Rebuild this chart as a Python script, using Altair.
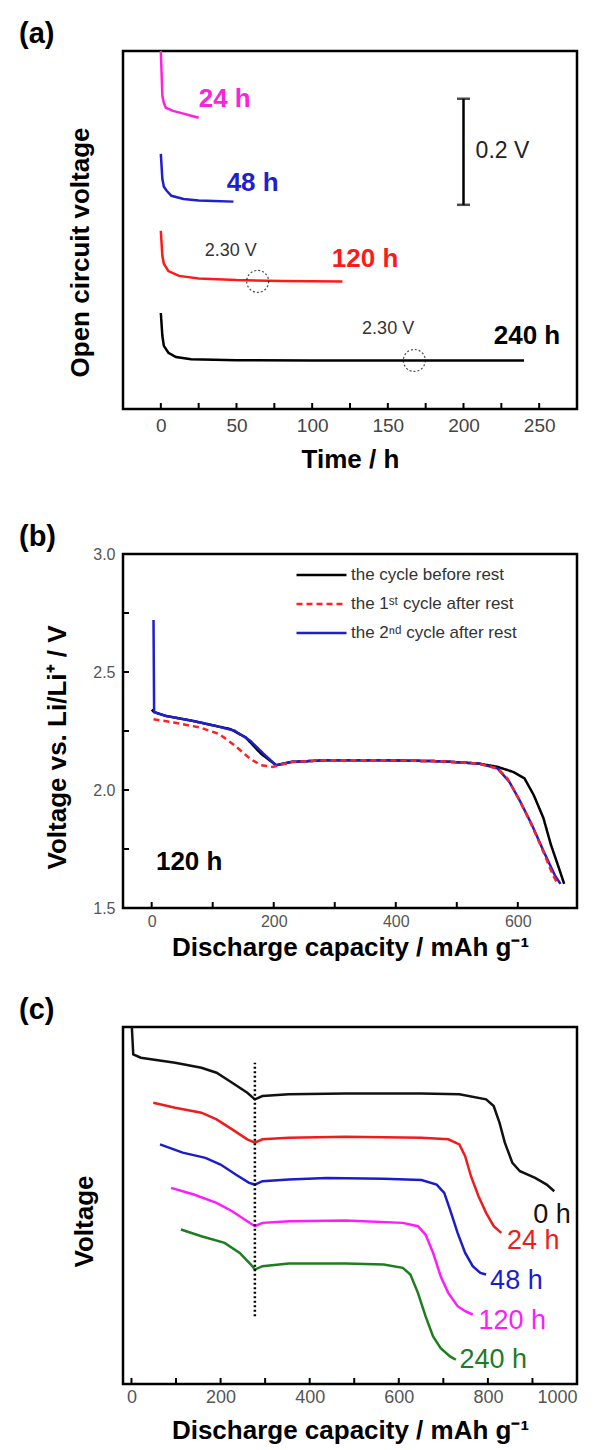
import altair as alt
import pandas as pd

FONT = "Liberation Sans"

# ---------------- panel (a): open circuit voltage during rest (curves offset) ----------------
a_names = ["24 h", "48 h", "120 h", "240 h"]
a_colors = ["#ff22dd", "#1f1fd0", "#ff1a1a", "#000000"]
a_t_24 = [0, 1, 2, 3.3, 8, 15, 20, 25]
a_v_24 = [0.675, 0.591, 0.577, 0.568, 0.562, 0.557, 0.553, 0.549]
a_t_48 = [0, 1, 2, 4, 7, 15, 25, 35, 48]
a_v_48 = [0.481, 0.434, 0.419, 0.411, 0.402, 0.396, 0.393, 0.392, 0.391]
a_t_120 = [0, 1, 2, 5, 12, 25, 50, 80, 120]
a_v_120 = [0.336, 0.289, 0.274, 0.260, 0.251, 0.246, 0.243, 0.2415, 0.2406]
a_t_240 = [0, 1, 2, 5, 10, 20, 50, 100, 170, 240]
a_v_240 = [0.181, 0.138, 0.119, 0.106, 0.098, 0.094, 0.092, 0.0915, 0.0915, 0.0915]
a_label_t = [25, 43.5, 113, 220]
a_label_v = [0.585, 0.426, 0.283, 0.138]
a_circle_t = [64, 167.5]
a_circle_v = [0.2406, 0.0915]
a_note_text = ["2.30 V", "2.30 V"]
a_note_t = [29, 133]
a_note_v = [0.298, 0.151]
a_bar_t = [200, 200]
a_bar_v = [0.385, 0.585]
a_bar_text = ["0.2 V"]
a_bar_text_t = [208]
a_bar_text_v = [0.487]
a_xticks = [0, 25, 50, 75, 100, 125, 150, 175, 200, 225, 250]

# ---------------- panel (b): discharge curves, 120 h rest ----------------
b_names = ["the cycle before rest", "the 1ˢᵗ cycle after rest", "the 2ⁿᵈ cycle after rest"]
b_colors = ["#000000", "#ff2020", "#1f1fd0"]
b_dashes = [[1, 0], [6, 4], [1, 0]]
b_before_x = [0, 4, 23, 67, 104, 129, 154, 179, 204, 229, 286, 379, 473, 536, 567, 592, 611, 626, 642, 654, 667, 676]
b_before_v = [2.34, 2.33, 2.314, 2.293, 2.272, 2.258, 2.223, 2.154, 2.105, 2.119, 2.126, 2.126, 2.122, 2.112, 2.098, 2.077, 2.049, 1.979, 1.881, 1.770, 1.672, 1.602]
b_first_x = [3, 36, 79, 111, 136, 161, 179, 198, 229, 286, 379, 473, 536, 567, 583, 601, 620, 639, 658, 664]
b_first_v = [2.30, 2.286, 2.265, 2.237, 2.189, 2.133, 2.105, 2.098, 2.119, 2.126, 2.126, 2.122, 2.112, 2.091, 2.049, 1.965, 1.867, 1.756, 1.637, 1.609]
b_second_x = [3, 4, 23, 67, 104, 136, 161, 186, 204, 229, 286, 379, 473, 536, 567, 586, 604, 623, 642, 661, 670]
b_second_v = [2.72, 2.33, 2.314, 2.293, 2.272, 2.251, 2.21, 2.147, 2.105, 2.119, 2.126, 2.126, 2.122, 2.112, 2.091, 2.035, 1.951, 1.853, 1.742, 1.637, 1.602]
b_label = ["120 h"]
b_label_x = [7]
b_label_v = [1.695]
b_xticks = [0, 100, 200, 300, 400, 500, 600]
b_yticks = [1.5, 1.75, 2.0, 2.25, 2.5, 2.75, 3.0]

# ---------------- panel (c): discharge curves after different rest times (offset) ----------------
c_names = ["0 h", "24 h", "48 h", "120 h", "240 h"]
c_colors = ["#111111", "#ee1c1c", "#1c1ccc", "#ff1aff", "#1e7d1e"]
c_0h_x = [0, 4, 21, 98, 157, 191, 226, 260, 277, 294, 353, 481, 651, 736, 796, 813, 826, 838, 855, 872, 906, 932, 949]
c_0h_v = [1.532, 1.385, 1.371, 1.350, 1.329, 1.308, 1.266, 1.224, 1.196, 1.210, 1.217, 1.221, 1.221, 1.217, 1.196, 1.168, 1.098, 1.014, 0.929, 0.894, 0.866, 0.838, 0.810]
c_24h_x = [49, 98, 157, 191, 226, 260, 277, 294, 353, 481, 651, 711, 736, 749, 762, 779, 796, 813, 830]
c_24h_v = [1.182, 1.161, 1.140, 1.112, 1.070, 1.028, 1.014, 1.028, 1.035, 1.039, 1.035, 1.028, 1.007, 0.957, 0.873, 0.789, 0.719, 0.663, 0.635]
c_48h_x = [64, 115, 166, 200, 234, 264, 277, 294, 353, 438, 566, 651, 685, 702, 715, 732, 749, 766, 783, 796]
c_48h_v = [1.007, 0.972, 0.950, 0.922, 0.880, 0.845, 0.838, 0.852, 0.859, 0.866, 0.862, 0.857, 0.838, 0.803, 0.733, 0.635, 0.551, 0.495, 0.467, 0.460]
c_120h_x = [89, 140, 191, 226, 260, 277, 294, 353, 481, 609, 643, 660, 677, 694, 711, 732, 749, 766]
c_120h_v = [0.824, 0.796, 0.761, 0.726, 0.684, 0.663, 0.677, 0.684, 0.687, 0.677, 0.663, 0.628, 0.551, 0.453, 0.383, 0.327, 0.306, 0.292]
c_240h_x = [111, 157, 209, 243, 268, 277, 294, 353, 481, 566, 609, 626, 643, 660, 677, 694, 715, 728]
c_240h_v = [0.649, 0.621, 0.593, 0.551, 0.502, 0.481, 0.495, 0.506, 0.506, 0.502, 0.488, 0.460, 0.383, 0.285, 0.200, 0.151, 0.116, 0.102]
c_label_x = [902, 843, 805, 779, 736]
c_label_v = [0.712, 0.600, 0.432, 0.264, 0.102]
c_dot_x = [277]
c_dot_v1 = [0.285]
c_dot_v2 = [1.350]
c_xticks = [0, 100, 200, 300, 400, 500, 600, 700, 800, 900, 1000]

# ---------------- layout parameters ----------------
W = 454
HA, HB, HC = 358, 354, 357
TITLE_FS = 26
PANEL_FS = 29
TK = 6  # inward tick length


def long_df(names, xs, ys):
    rows = []
    for n, xl, yl in zip(names, xs, ys):
        for i, (x, y) in enumerate(zip(xl, yl)):
            rows.append({"series": n, "x": x, "y": y, "i": i})
    return pd.DataFrame(rows)


one = pd.DataFrame({"k": [0]})


def panel_tag(txt):
    return alt.Chart(one).mark_text(
        align="left", baseline="middle", fontSize=PANEL_FS, fontWeight="bold", font=FONT, color="black"
    ).encode(x=alt.value(-104), y=alt.value(-17), text=alt.value(txt))


def x_ticks(values, scale, axis, h):
    return alt.Chart(pd.DataFrame({"x": values})).mark_rule(color="black", strokeWidth=2).encode(
        x=alt.X("x:Q", scale=scale, axis=axis), y=alt.value(h - TK), y2=alt.value(h))


def y_ticks(values, scale, axis):
    return alt.Chart(pd.DataFrame({"y": values})).mark_rule(color="black", strokeWidth=2).encode(
        y=alt.Y("y:Q", scale=scale, axis=axis), x=alt.value(0), x2=alt.value(TK))


# ----- (a) -----
xa = alt.Scale(domain=[-25, 275], nice=False, zero=False)
ya = alt.Scale(domain=[0, 0.675], nice=False, zero=False)
a_col = alt.Scale(domain=a_names, range=a_colors)
xa_axis = alt.Axis(values=a_xticks, format="d", labelExpr="datum.value % 50 == 0 ? datum.label : ''",
                   ticks=False, tickSize=0, labelPadding=7, labelFontSize=19, labelColor="#444",
                   title="Time / h", titlePadding=11)
ya_axis = alt.Axis(labels=False, ticks=False, domain=False, minExtent=0,
                   title="Open circuit voltage", titleX=-30, titleY=201)
df_a = long_df(a_names, [a_t_24, a_t_48, a_t_120, a_t_240], [a_v_24, a_v_48, a_v_120, a_v_240])

a_lines = alt.Chart(df_a).mark_line(strokeWidth=2.5, clip=True).encode(
    x=alt.X("x:Q", scale=xa, axis=xa_axis),
    y=alt.Y("y:Q", scale=ya, axis=ya_axis),
    color=alt.Color("series:N", scale=a_col, legend=None),
    order="i:Q",
)
a_labels = alt.Chart(pd.DataFrame({"series": a_names, "x": a_label_t, "y": a_label_v})).mark_text(
    align="left", baseline="middle", fontSize=26, fontWeight="bold", font=FONT
).encode(x=alt.X("x:Q", scale=xa, axis=xa_axis), y=alt.Y("y:Q", scale=ya, axis=ya_axis),
         text="series:N", color=alt.Color("series:N", scale=a_col, legend=None))
a_circles = alt.Chart(pd.DataFrame({"x": a_circle_t, "y": a_circle_v})).mark_point(
    shape="circle", size=484, filled=False, color="black", strokeWidth=1.2, strokeDash=[2, 2]
).encode(x=alt.X("x:Q", scale=xa, axis=xa_axis), y=alt.Y("y:Q", scale=ya, axis=ya_axis))
a_notes = alt.Chart(pd.DataFrame({"t": a_note_text, "x": a_note_t, "y": a_note_v})).mark_text(
    align="left", baseline="middle", fontSize=18, font=FONT, color="#333"
).encode(x=alt.X("x:Q", scale=xa, axis=xa_axis), y=alt.Y("y:Q", scale=ya, axis=ya_axis), text="t:N")
a_bar = alt.Chart(pd.DataFrame({"x": a_bar_t[:1], "y": a_bar_v[:1], "y2": a_bar_v[1:]})).mark_rule(
    strokeWidth=2.5, color="black").encode(
    x=alt.X("x:Q", scale=xa, axis=xa_axis), y=alt.Y("y:Q", scale=ya, axis=ya_axis), y2="y2:Q")
a_caps = alt.Chart(pd.DataFrame({"x": a_bar_t, "y": a_bar_v})).mark_tick(
    orient="horizontal", size=13, thickness=2.5, color="black").encode(
    x=alt.X("x:Q", scale=xa, axis=xa_axis), y=alt.Y("y:Q", scale=ya, axis=ya_axis))
a_bartext = alt.Chart(pd.DataFrame({"t": a_bar_text, "x": a_bar_text_t, "y": a_bar_text_v})).mark_text(
    align="left", baseline="middle", fontSize=23, font=FONT, color="#222"
).encode(x=alt.X("x:Q", scale=xa, axis=xa_axis), y=alt.Y("y:Q", scale=ya, axis=ya_axis), text="t:N")
a_spacer = alt.Chart(one).mark_rule(opacity=0).encode(
    x=alt.value(0), y=alt.value(HA + 60), y2=alt.value(HA + 78))

chart_a = alt.layer(a_lines, a_labels, a_circles, a_notes, a_bar, a_caps, a_bartext,
                    x_ticks(a_xticks, xa, xa_axis, HA),
                    panel_tag("(a)"), a_spacer).properties(width=W, height=HA)

# ----- (b) -----
xb = alt.Scale(domain=[-47, 697], nice=False, zero=False)
yb = alt.Scale(domain=[1.5, 3.0], nice=False, zero=False)
b_col = alt.Scale(domain=b_names, range=b_colors)
b_dash = alt.Scale(domain=b_names, range=b_dashes)
xb_axis = alt.Axis(values=b_xticks, format="d", labelExpr="datum.value % 200 == 0 ? datum.label : ''",
                   ticks=False, tickSize=0, labelPadding=5, labelFontSize=16, labelColor="#555",
                   title="Discharge capacity / mAh g⁻¹", titlePadding=5)
yb_axis = alt.Axis(values=b_yticks, format=".1f", labelExpr="(datum.value * 4) % 2 == 0 ? datum.label : ''",
                   ticks=False, tickSize=0, labelPadding=8, labelFontSize=16, labelColor="#555",
                   minExtent=0, title="Voltage vs. Li/Li⁺ / V", titleX=-53, titleY=193)
df_b = long_df(b_names, [b_before_x, b_first_x, b_second_x], [b_before_v, b_first_v, b_second_v])
leg = alt.Legend(orient="none", legendX=172, legendY=13, title=None, symbolType="stroke",
                 symbolSize=2500, symbolStrokeWidth=2.5, labelFontSize=17, labelColor="#333",
                 labelFont=FONT, labelLimit=400, clipHeight=16, rowPadding=12, labelOffset=3)


def b_layer(name):
    return alt.Chart(df_b[df_b.series == name]).mark_line(strokeWidth=2.5).encode(
        x=alt.X("x:Q", scale=xb, axis=xb_axis),
        y=alt.Y("y:Q", scale=yb, axis=yb_axis),
        color=alt.Color("series:N", scale=b_col, legend=leg),
        strokeDash=alt.StrokeDash("series:N", scale=b_dash, legend=leg),
        order="i:Q",
    )


b_text = alt.Chart(pd.DataFrame({"t": b_label, "x": b_label_x, "y": b_label_v})).mark_text(
    align="left", baseline="middle", fontSize=26, fontWeight="bold", font=FONT, color="black"
).encode(x=alt.X("x:Q", scale=xb, axis=xb_axis), y=alt.Y("y:Q", scale=yb, axis=yb_axis), text="t:N")

chart_b = alt.layer(b_layer(b_names[0]), b_layer(b_names[2]), b_layer(b_names[1]), b_text,
                    x_ticks(b_xticks, xb, xb_axis, HB), y_ticks(b_yticks, yb, yb_axis),
                    panel_tag("(b)")).properties(width=W, height=HB)

# ----- (c) -----
xc = alt.Scale(domain=[-19, 1000], nice=False, zero=False)
yc = alt.Scale(domain=[0, 1.5], nice=False, zero=False)
c_col = alt.Scale(domain=c_names, range=c_colors)
xc_axis = alt.Axis(values=c_xticks, format="d", labelExpr="datum.value % 200 == 0 ? datum.label : ''",
                   ticks=False, tickSize=0, labelPadding=4, labelFontSize=18, labelColor="#555",
                   title="Discharge capacity / mAh g⁻¹", titlePadding=11)
yc_axis = alt.Axis(labels=False, ticks=False, domain=False, minExtent=0,
                   title="Voltage", titleX=-26, titleY=194)
df_c = long_df(c_names, [c_0h_x, c_24h_x, c_48h_x, c_120h_x, c_240h_x],
               [c_0h_v, c_24h_v, c_48h_v, c_120h_v, c_240h_v])
c_lines = alt.Chart(df_c).mark_line(strokeWidth=2.5, clip=True).encode(
    x=alt.X("x:Q", scale=xc, axis=xc_axis),
    y=alt.Y("y:Q", scale=yc, axis=yc_axis),
    color=alt.Color("series:N", scale=c_col, legend=None),
    order="i:Q",
)
c_dot = alt.Chart(pd.DataFrame({"x": c_dot_x, "y": c_dot_v1, "y2": c_dot_v2})).mark_rule(
    strokeWidth=2.5, color="black", strokeDash=[2, 2.5]).encode(
    x=alt.X("x:Q", scale=xc, axis=xc_axis), y=alt.Y("y:Q", scale=yc, axis=yc_axis), y2="y2:Q")
c_labels = alt.Chart(pd.DataFrame({"series": c_names, "x": c_label_x, "y": c_label_v})).mark_text(
    align="left", baseline="middle", fontSize=27, font=FONT
).encode(x=alt.X("x:Q", scale=xc, axis=xc_axis), y=alt.Y("y:Q", scale=yc, axis=yc_axis),
         text="series:N", color=alt.Color("series:N", scale=c_col, legend=None))

chart_c = alt.layer(c_lines, c_dot, c_labels, x_ticks(c_xticks, xc, xc_axis, HC),
                    panel_tag("(c)")).properties(width=W, height=HC)

chart = alt.vconcat(chart_a, chart_b, chart_c, spacing=32).resolve_scale(
    color="independent", strokeDash="independent", x="independent", y="independent"
).properties(padding={"left": 9, "top": 10, "right": 5, "bottom": 5}).configure_view(
    stroke="black", strokeWidth=2.5
).configure_axis(
    labelFont=FONT, titleFont=FONT, titleFontSize=TITLE_FS, titleFontWeight="bold",
    titleColor="black", grid=False, domain=False
)

chart.save("out.html", embed_options={"renderer": "svg", "actions": False})
